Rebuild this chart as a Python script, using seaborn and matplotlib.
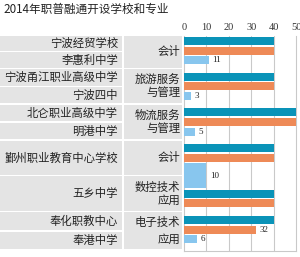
import numpy as np
import pandas as pd
import matplotlib
matplotlib.use('Agg')
import matplotlib.pyplot as plt
from matplotlib.patches import Rectangle
import seaborn as sns

# ---------------------------------------------------------
# 数据
# ---------------------------------------------------------
title = '2014年职普融通开设学校和专业'
schools = ['宁波经贸学校', '李惠利中学', '宁波甬江职业高级中学', '宁波四中',
           '北仑职业高级中学', '明港中学', '鄞州职业教育中心学校', '五乡中学',
           '奉化职教中心', '奉港中学']
majors = ['会计', '旅游服务\n与管理', '物流服务\n与管理', '会计', '数控技术\n应用', '电子技术\n应用']
series_names = ['系列一', '系列二', '系列三']

# 每根条形：所属组、系列、数值（按从上到下顺序）
bar_group = [0, 0, 0, 1, 1, 1, 2, 2, 2, 3, 3, 3, 3, 3, 4, 4, 4]
bar_series = ['系列一', '系列二', '系列三'] * 3 + \
             ['系列一', '系列二', '系列三', '系列一', '系列二'] + \
             ['系列一', '系列二', '系列三']
bar_values = [40, 40, 11, 40, 40, 3, 50, 50, 5, 40, 40, 10, 40, 40, 40, 32, 6]
x_ticks = [0, 10, 20, 30, 40, 50]

# ---------------------------------------------------------
# 样式
# ---------------------------------------------------------
sns.set_theme(style='white')
plt.rcParams['font.family'] = ['Noto Sans CJK SC', 'DejaVu Sans']
colors = {'系列一': '#0a93b8', '系列二': '#ee8a57', '系列三': '#88c6ee'}
cell_gray = '#e4e4e4'
grid_gray = '#c9c9c9'
num_font = ['Liberation Serif', 'DejaVu Serif']

# ---------------------------------------------------------
# 版面（像素单位，y 向下）
# ---------------------------------------------------------
W, H = 300, 257
BAR_H, BAR_GAP, GROUP_GAP = 8, 1.6, 8.5
THICK_H = 25
thick_bar = 11
PLOT_L, PLOT_R, PLOT_T, PLOT_B = 184, 296, 36, 251

centers, tops, bottoms = [], [], []
cur = 37
for i, g in enumerate(bar_group):
    if i > 0:
        cur += GROUP_GAP if g != bar_group[i - 1] else BAR_GAP
    h = THICK_H if i == thick_bar else BAR_H
    tops.append(cur)
    centers.append(cur + h / 2)
    cur += h
    bottoms.append(cur)

n_groups = max(bar_group) + 1
g_top = [min(t for t, g in zip(tops, bar_group) if g == k) for k in range(n_groups)]
g_bot = [max(b for b, g in zip(bottoms, bar_group) if g == k) for k in range(n_groups)]
bounds = [35] + [(g_bot[k] + g_top[k + 1]) / 2 for k in range(n_groups - 1)] + [250]

# 每组两所学校，平分组高度
row_spans = []
for k in range(n_groups):
    mid = (bounds[k] + bounds[k + 1]) / 2
    row_spans += [(bounds[k], mid), (mid, bounds[k + 1])]
row_centers = [(a + b) / 2 for a, b in row_spans]

# 专业对应的行
major_rows = [(0, 1), (2, 3), (4, 5), (6, 6), (7, 7), (8, 9)]
major_ls = [1.2, 1.2, 1.2, 1.2, 1.2, 1.65]

df = pd.DataFrame({'pos': centers, 'value': bar_values,
                   'series': bar_series, 'group': bar_group})

# ---------------------------------------------------------
# 绘图
# ---------------------------------------------------------
fig = plt.figure(figsize=(W / 100, H / 100), dpi=100)
bg = fig.add_axes([0, 0, 1, 1])
bg.set_xlim(0, W)
bg.set_ylim(H, 0)
bg.axis('off')

bg.text(3, 9.5, title, fontsize=8.4, va='center', ha='left', color='#222222')

# 左侧表格
for (a, b), name in zip(row_spans, schools):
    bg.add_patch(Rectangle((0, a + 0.7), 121.5, b - a - 1.4, color=cell_gray, lw=0))
    bg.text(118, (a + b) / 2, name, fontsize=8.2, ha='right', va='center', color='#222222')

for (r0, r1), name, ls in zip(major_rows, majors, major_ls):
    a, b = row_spans[r0][0], row_spans[r1][1]
    bg.add_patch(Rectangle((123.5, a + 0.7), 58, b - a - 1.4, color=cell_gray, lw=0))
    bg.text(180, (a + b) / 2, name, fontsize=8.2, ha='right', va='center',
            linespacing=ls, multialignment='right', color='#222222')

ax = fig.add_axes([PLOT_L / W, 1 - PLOT_B / H, (PLOT_R - PLOT_L) / W, (PLOT_B - PLOT_T) / H])

normal = df.drop(index=thick_bar)
native = np.diff(np.sort(normal['pos'].unique())).min()
sns.barplot(data=normal, x='value', y='pos', hue='series', palette=colors,
            orient='y', native_scale=True, dodge=False, width=BAR_H / native,
            errorbar=None, saturation=1, legend=False, linewidth=0, ax=ax, zorder=3)
sns.barplot(data=df.loc[[thick_bar]], x='value', y='pos', color=colors[bar_series[thick_bar]],
            orient='y', native_scale=True, width=THICK_H, errorbar=None,
            saturation=1, linewidth=0, ax=ax, zorder=3)

ax.set_xlim(0, 50)
ax.set_ylim(PLOT_B, PLOT_T)
ax.set_xticks(x_ticks)
ax.xaxis.tick_top()
ax.tick_params(axis='x', length=0, pad=3, labelsize=7.5, labelcolor='#333333')
for lab in ax.get_xticklabels():
    lab.set_fontfamily(num_font)
ax.set_yticks([])
ax.set_xlabel('')
ax.set_ylabel('')
for v in x_ticks[1:-1]:
    ax.axvline(v, color=grid_gray, lw=0.8, zorder=1)
for side in ['left', 'right', 'bottom']:
    ax.spines[side].set_color(grid_gray)
    ax.spines[side].set_linewidth(0.8)
ax.spines['top'].set_visible(False)

# 数值标签
for pos, v in zip(centers, bar_values):
    if v < 40:
        ax.annotate(str(v), (v, pos), xytext=(2.5, 0), textcoords='offset points',
                    ha='left', va='center', fontsize=6.5, family=num_font, color='#222222')

fig.savefig('out.png', dpi=100)
